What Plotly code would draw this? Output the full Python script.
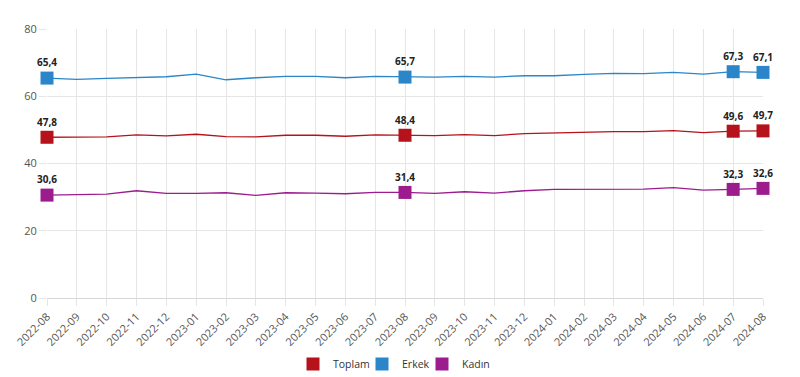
import plotly.graph_objects as go

months = ["2022-08","2022-09","2022-10","2022-11","2022-12","2023-01","2023-02","2023-03",
          "2023-04","2023-05","2023-06","2023-07","2023-08","2023-09","2023-10","2023-11",
          "2023-12","2024-01","2024-02","2024-03","2024-04","2024-05","2024-06","2024-07","2024-08"]

toplam = [47.8,47.8,47.9,48.5,48.2,48.7,48.0,47.9,48.4,48.4,48.1,48.5,48.4,48.3,48.6,48.3,
          48.9,49.1,49.4,49.5,49.5,49.8,49.2,49.6,49.7]
erkek = [65.4,65.0,65.3,65.5,65.8,66.6,64.9,65.5,65.9,65.9,65.5,65.9,65.7,65.7,65.9,65.7,
         66.1,66.1,66.5,66.8,66.7,67.1,66.6,67.3,67.1]
kadin = [30.6,30.7,30.9,31.9,31.1,31.1,31.3,30.5,31.3,31.2,31.0,31.4,31.4,31.1,31.6,31.2,
         31.9,32.3,32.4,32.3,32.4,32.8,32.1,32.3,32.6]

highlight_months = ["2022-08","2023-08","2024-07","2024-08"]
y_ticks = [0, 20, 40, 60, 80]

series = [("Toplam", toplam, "#b5121b", "legend"),
          ("Erkek", erkek, "#2a86c8", "legend2"),
          ("Kadın", kadin, "#9c1c8e", "legend3")]

# layout geometry (figure px; page body adds an 8px offset)
W, H = 800, 377
ML, MR, MT, MB = 39, 45, 21, 87

fig = go.Figure()
for name, vals, color, lg in series:
    fig.add_trace(go.Scatter(x=months, y=vals, mode="lines", line=dict(color=color, width=1.3),
                             showlegend=False, hoverinfo="skip"))
for name, vals, color, lg in series:
    hx = [m for m in months if m in highlight_months]
    hy = [v for m, v in zip(months, vals) if m in highlight_months]
    fig.add_trace(go.Scatter(x=hx, y=hy, mode="markers+text", name=name, legend=lg,
                             marker=dict(symbol="square", size=13, color=color),
                             text=[f"{v:.1f}".replace(".", ",") for v in hy],
                             textposition="top center", cliponaxis=False,
                             textfont=dict(size=10, color="#222", family="Open Sans", weight="bold")))

legend_left_px = [285, 354, 414]
legend_common = dict(orientation="h", xanchor="left", xref="container", yref="container",
                     y=21 / H, yanchor="middle",
                     font=dict(size=10.5, color="#333"), bgcolor="rgba(0,0,0,0)")

fig.update_layout(
    width=W, height=H,
    margin=dict(l=ML, r=MR, t=MT, b=MB),
    paper_bgcolor="white", plot_bgcolor="white",
    font=dict(family="Open Sans", size=11, color="#555"),
    legend=dict(x=legend_left_px[0] / W, **legend_common),
    legend2=dict(x=legend_left_px[1] / W, **legend_common),
    legend3=dict(x=legend_left_px[2] / W, **legend_common),
)
fig.update_xaxes(type="category", range=[0, len(months) - 1], tickangle=-45, automargin=False,
                 showgrid=True, gridcolor="#e6e6e6", gridwidth=1,
                 showline=True, linecolor="#d8d8d8", linewidth=1,
                 zeroline=False, ticks="outside", ticklen=7, tickcolor="#e6e6e6",
                 tickfont=dict(size=11, color="#555"))
fig.update_yaxes(range=[0, 80], tickvals=y_ticks, showgrid=True, gridcolor="#e6e6e6", automargin=False,
                 zeroline=False, showline=False, ticks="outside", ticklen=7, tickcolor="#e6e6e6",
                 tickfont=dict(size=11, color="#555"))

fig.write_html("out.html")
